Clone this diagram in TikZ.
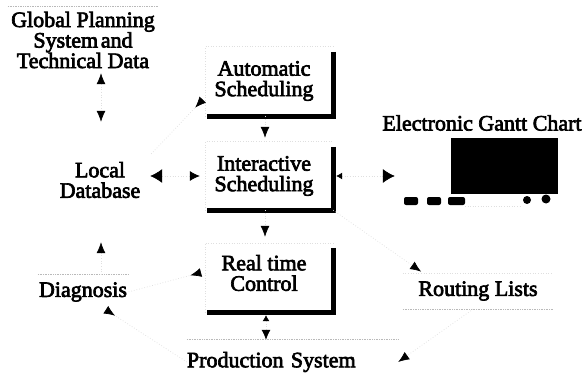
\documentclass[tikz,border=0pt]{standalone}
\usepackage{fontspec}
\setmainfont{Liberation Serif}
\newfontfamily\diagfont{Liberation Serif}[FakeBold=3]
\usetikzlibrary{arrows.meta,calc}

\tikzset{
  txt/.style={font=\diagfont\fontsize{22}{20.5}\selectfont, align=center, inner sep=0pt},
  boxbody/.style={minimum width=128pt, minimum height=#1, inner sep=0pt},
  shadowedge/.style={line width=5pt, black, line join=miter},
  faint/.style={draw=gray!55, densely dotted, line width=0.7pt},
  fainter/.style={draw=gray!25, dotted, line width=0.6pt},
  conn/.style={draw=gray!25, dotted, line width=0.7pt},
  >={Latex[length=11pt,width=9pt,color=black]},
  headback/.style={{Latex[reversed,length=11pt,width=9pt,color=black]}-},
}

\begin{document}
\begin{tikzpicture}[x=1pt,y=-1pt]
\fill[white] (0,0) rectangle (585,374);
\useasboundingbox (0,0) rectangle (585,374);

% ---- text blocks ----
\node[txt, minimum width=150pt, minimum height=66pt] (global) at (83,40)
  {Global Planning\\System\hspace{0.12em}and\\Technical Data};
\node[txt, minimum width=100pt, minimum height=116pt] (local) at (100,180)
  {Local\\Database};
\node[txt, minimum width=90pt, minimum height=34pt] (diag) at (83,292) {Diagnosis};
\node[txt, text width=211pt, align=left, minimum height=44pt] (prod) at (292.5,362)
  {Production System};
\node[txt, minimum width=150pt, minimum height=36pt] (routing) at (478,291) {Routing Lists};

% ---- scheduling boxes with heavy shadow edges ----
\node[boxbody=69pt] (auto)  at (269,81.5)  {};
\node[boxbody=68pt] (inter) at (269,176)   {};
\node[boxbody=69pt] (rtc)   at (269,277.5) {};
\node[txt] (autotext)  at (264,81)  {Automatic\\Scheduling};
\node[txt] (intertext) at (264,176) {Interactive\\Scheduling};
\node[txt] (rtctext)   at (264,273) {Real time\\Control};
\foreach \b in {auto,inter,rtc}{
  \draw[fainter] (\b.south west) -- (\b.north west) -- (\b.north east);
  \draw[shadowedge] ([yshift=-5pt]\b.north east) -- (\b.south east) -- ([xshift=2pt]\b.south west);
}

% ---- electronic Gantt chart terminal ----
\node[txt] (ganttlabel) at (482,123) {Electronic Gantt Chart};
\node[minimum width=164pt, minimum height=74pt, inner sep=0pt] (gantt) at (480,171) {};
\fill[black] (451,138) rectangle (558,194);
\fill[black, rounded corners=2pt] (404,197) rectangle (418,205);
\fill[black, rounded corners=2pt] (427,197) rectangle (441,205);
\fill[black, rounded corners=2pt] (448,197) rectangle (465,205);
\fill[black] (527,200) circle[radius=4pt];
\fill[black] (546,199) circle[radius=4.5pt];
\draw[fainter] (465,206) -- (522,206);

% ---- faint box borders ----
\draw[faint] (global.north west) -- (global.north east);
\draw[faint] (diag.north west) -- (diag.north east);
\draw[faint] (prod.north west) -- (prod.north east);
\draw[faint] (routing.south west) -- (routing.south east);
\draw[fainter] (routing.north west) -- (routing.north east);

% ---- connectors ----
\draw[conn,<->] ([xshift=18pt]global.south) -- ([xshift=1pt]local.north);
\draw[conn,headback,shorten <=3pt] ([yshift=-16pt]auto.west) -- ([yshift=25pt]local.east);
\draw[conn,->,shorten >=4pt] ([xshift=-4pt]auto.south) -- ([xshift=-4pt]inter.north);
\draw[conn,->,shorten >=6pt] ([xshift=-4pt]inter.south) -- ([xshift=-4pt]rtc.north);
\draw[conn,{Latex[length=12pt,width=14pt,color=black]}-{Latex[length=10pt,width=10pt,color=black]},shorten >=5pt]
  (local.east |- inter.west) -- (inter.west);
\draw[conn,{Latex[length=6pt,width=7pt,color=black]}-{Latex[length=12pt,width=14pt,color=black]},shorten <=3pt,shorten >=3pt]
  (inter.east) -- (inter.east -| gantt.west);
\draw[conn,headback,shorten <=4pt] ([yshift=6pt]rtc.west) -- (diag.east);
\draw[conn,->,shorten >=4pt] ([xshift=18pt]diag.north) -- ([xshift=1pt]local.south);
\draw[conn,headback,shorten <=1pt] ([xshift=22pt]diag.south) -- (prod.west);
\draw[conn,->,shorten >=2pt] (inter.south east) -- ([xshift=20pt]routing.north west);
\draw[conn,->] ([xshift=-5pt]routing.south) -- (prod.east);
\draw[conn,{Latex[length=6pt,width=7pt,color=black]}-{Latex[length=10pt,width=9pt,color=black]},shorten <=3pt]
  ([xshift=-3pt]rtc.south) -- ([xshift=-3pt]rtc.south |- prod.north);
\end{tikzpicture}
\end{document}
